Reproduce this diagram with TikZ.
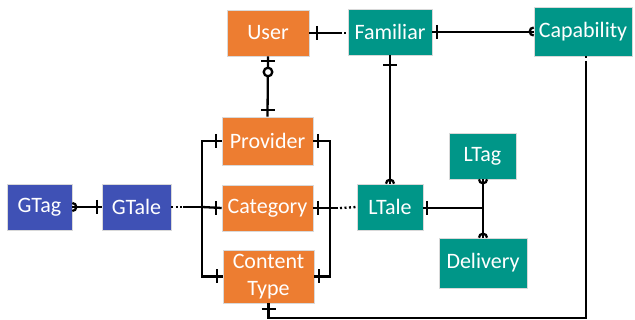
\documentclass[tikz,border=0pt]{standalone}
\usepackage{fontspec}
\setmainfont{Carlito}
\definecolor{ora}{RGB}{237,125,49}
\definecolor{tea}{RGB}{0,150,136}
\definecolor{blu}{RGB}{63,81,181}
\begin{document}
\begin{tikzpicture}[x=1pt,y=-1pt,
  ent/.style={draw=white!85!black,line width=0.6pt,inner sep=0pt,text=white,align=center,
    font=\fontsize{22}{27}\selectfont},
  oe/.style={ent,fill=ora},
  te/.style={ent,fill=tea},
  be/.style={ent,fill=blu},
  ln/.style={line width=2.3pt,line cap=butt},
  dt/.style={line width=2.3pt,dash pattern=on 2pt off 2.5pt}]
\useasboundingbox (0,0) rectangle (635,320);
% entities
\node[oe,minimum width=82pt,minimum height=46pt] (user) at (268,33) {User};
\node[te,minimum width=84pt,minimum height=46pt] (fam) at (390,32) {Familiar};
\node[te,minimum width=98pt,minimum height=49pt] (cap) at (583,31.5) {Capability};
\node[be,minimum width=65pt,minimum height=46pt] (gtag) at (39.5,207) {GTag};
\node[be,minimum width=69pt,minimum height=46pt] (gtale) at (136.5,207) {GTale};
\node[oe,minimum width=91pt,minimum height=48pt] (prov) at (267.5,141) {Provider};
\node[oe,minimum width=91pt,minimum height=46pt] (cat) at (267.5,208) {Category};
\node[oe,minimum width=91pt,minimum height=53pt] (ctype) at (268.5,276.5) {Content\\Type};
\node[te,minimum width=66pt,minimum height=46pt] (ltale) at (390,207) {LTale};
\node[te,minimum width=67pt,minimum height=46pt] (ltag) at (482.5,156) {LTag};
\node[te,minimum width=88pt,minimum height=50pt] (deliv) at (483,263) {Delivery};
% helper coordinates
\coordinate (lbt) at (202,141);
\coordinate (lbb) at (202,276.5);
\coordinate (lbm) at (202,207);
\coordinate (rbt) at (330,141);
\coordinate (rbb) at (330,276.5);
\coordinate (rbm) at (330,208);
\coordinate (jn) at (483,208);
\coordinate (crb) at (586,318);
\coordinate (clb) at (268.5,318);
% User -- Familiar
\draw[ln] (user.east) -- (342,33);
\draw[dt] (344,33) -- (348,33);
\draw[ln] (317,26) -- (317,40);
% Familiar -- Capability
\draw[ln] (fam.east) -- (fam.east -| cap.west);
\draw[ln] (437,25) -- (437,39);
\draw[ln] ([yshift=4pt]cap.west) arc[start angle=90,end angle=270,radius=4pt];
% Familiar -- LTale
\draw[ln] (fam.south) -- (ltale.north);
\draw[ln] (383,65) -- (397,65);
\draw[ln] ([xshift=-4pt]ltale.north) arc[start angle=180,end angle=0,radius=4pt];
% User -- Provider
\draw[ln] (user.south) -- (prov.north);
\draw[ln] (261,61) -- (275,61);
\draw[ln,fill=white] (268,72) circle[radius=4.3pt];
\draw[ln] (261,110) -- (275,110);
% GTag -- GTale
\draw[ln] (gtag.east) -- (gtale.west);
\draw[ln] ([yshift=4pt]gtag.east) arc[start angle=90,end angle=-90,radius=4pt];
\draw[ln] (97,200) -- (97,214);
% GTale -- left bracket
\draw[dt] (gtale.east) -- (182,207);
\draw[ln] (183,207) -- (lbm);
% left bracket
\draw[ln] (prov.west) -- (lbt) -- (lbb) -- (ctype.west);
\draw[ln] (lbm) -- (cat.west);
\draw[ln] (216,134) -- (216,148);
\draw[ln] (216,201) -- (216,215);
\draw[ln] (217,269.5) -- (217,283.5);
% right bracket
\draw[ln] (prov.east) -- (rbt) -- (rbb) -- (ctype.east);
\draw[ln] (cat.east) -- (rbm);
\draw[ln] (318,134) -- (318,148);
\draw[ln] (318,201) -- (318,215);
\draw[ln] (319,269.5) -- (319,283.5);
% right bracket -- LTale
\draw[ln] (rbm) -- (338,208);
\draw[dt] (340,208) -- (ltale.west);
% LTale -- LTag / Delivery
\draw[ln] (ltale.east |- jn) -- (jn);
\draw[ln] (427,201) -- (427,215);
\draw[ln] (ltag.south -| jn) -- (deliv.north -| jn);
\draw[ln] ([xshift=-4pt]ltag.south -| jn) arc[start angle=180,end angle=360,radius=4pt];
\draw[ln] ([xshift=-4pt]deliv.north -| jn) arc[start angle=180,end angle=0,radius=4pt];
% Capability -- Content Type
\draw[dt] (cap.south -| crb) -- (586,63);
\draw[ln] (586,63) -- (crb) -- (clb) -- (ctype.south -| clb);
\draw[ln] (261.5,309) -- (275.5,309);
\end{tikzpicture}
\end{document}
